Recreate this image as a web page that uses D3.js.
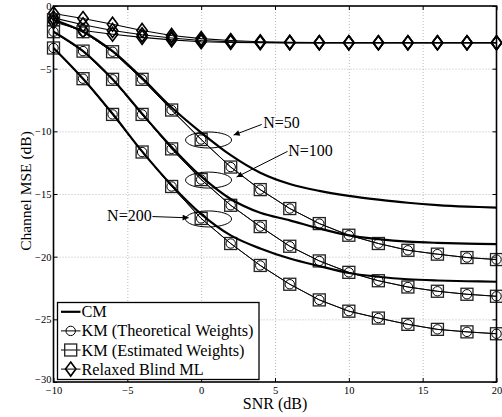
<!DOCTYPE html>
<html><head><meta charset="utf-8">
<script src="https://cdn.jsdelivr.net/npm/d3@7"></script>
<style>
body{margin:0;background:#fff;}
svg{display:block;font-family:"Liberation Serif","Times New Roman",serif;}
</style>
</head><body>
<svg id="c" width="502" height="417"></svg>
<script>
// ---- data ----
const snr = [-10,-8,-6,-4,-2,0,2,4,6,8,10,12,14,16,18,20];
const xTicks = [-10,-5,0,5,10,15,20];
const yTicks = [0,-5,-10,-15,-20,-25,-30];

const cm50  = [-1.1,-2.05,-3.6,-5.75,-8.1,-10.1,-11.9,-13.3,-14.2,-14.75,-15.15,-15.45,-15.7,-15.88,-16.0,-16.08];
const cm100 = [-2.05,-3.6,-5.85,-8.6,-11.25,-13.6,-15.4,-16.5,-17.1,-17.75,-18.3,-18.6,-18.8,-18.9,-18.96,-19.0];
const cm200 = [-3.35,-5.8,-8.6,-11.6,-14.3,-16.6,-18.3,-19.35,-20.15,-20.75,-21.3,-21.6,-21.8,-21.9,-21.96,-22.0];

const kmTheo50  = [-1.1,-2.05,-3.65,-5.85,-8.3,-10.65,-12.85,-14.65,-16.16,-17.36,-18.29,-18.95,-19.49,-19.8,-20.07,-20.23];
const kmTheo100 = [-2.05,-3.6,-5.85,-8.65,-11.4,-13.85,-15.9,-17.6,-19.17,-20.34,-21.25,-21.92,-22.42,-22.76,-23.0,-23.16];
const kmTheo200 = [-3.35,-5.8,-8.65,-11.65,-14.4,-16.95,-18.95,-20.7,-22.2,-23.45,-24.35,-24.9,-25.4,-25.8,-26.0,-26.15];

const kmEst50  = [-1.1,-2.05,-3.65,-5.85,-8.3,-10.65,-12.85,-14.65,-16.16,-17.36,-18.29,-18.95,-19.49,-19.8,-20.07,-20.23];
const kmEst100 = [-2.05,-3.6,-5.85,-8.65,-11.4,-13.85,-15.9,-17.6,-19.17,-20.34,-21.25,-21.92,-22.42,-22.76,-23.0,-23.16];
const kmEst200 = [-3.35,-5.8,-8.65,-11.65,-14.4,-16.95,-18.95,-20.7,-22.2,-23.45,-24.35,-24.9,-25.4,-25.8,-26.0,-26.15];

const rbml50  = [-0.6,-1.0,-1.45,-1.95,-2.35,-2.6,-2.75,-2.85,-2.9,-2.92,-2.93,-2.93,-2.93,-2.93,-2.93,-2.93];
const rbml100 = [-0.95,-1.5,-1.95,-2.3,-2.55,-2.75,-2.85,-2.9,-2.92,-2.93,-2.93,-2.93,-2.93,-2.93,-2.93,-2.93];
const rbml200 = [-1.25,-1.95,-2.25,-2.5,-2.7,-2.85,-2.9,-2.93,-2.94,-2.94,-2.94,-2.94,-2.94,-2.94,-2.94,-2.94];

const legendLabels = ["CM","KM (Theoretical Weights)","KM (Estimated Weights)","Relaxed Blind ML"];
const annLabels = ["N=50","N=100","N=200"];

// ---- layout ----
const svg = d3.select("#c");
const L = 53.5, R = 496.5, T = 6, B = 382;
const x = d3.scaleLinear().domain([-10,20]).range([L,R]);
const y = d3.scaleLinear().domain([0,-30]).range([T,B]);

// grid
const grid = svg.append("g");
grid.append("g").attr("transform",`translate(0,${B})`)
  .call(d3.axisBottom(x).tickValues(xTicks.slice(1,-1)).tickSize(-(B-T)).tickFormat(""))
  .call(g=>g.select(".domain").remove())
  .selectAll("line").attr("stroke","#aaa").attr("stroke-width",0.8).attr("stroke-dasharray","1,2");
grid.append("g").attr("transform",`translate(${L},0)`)
  .call(d3.axisLeft(y).tickValues(yTicks.slice(1,-1)).tickSize(-(R-L)).tickFormat(""))
  .call(g=>g.select(".domain").remove())
  .selectAll("line").attr("stroke","#aaa").attr("stroke-width",0.8).attr("stroke-dasharray","1,2");

// axes
const fmt = d => d3.format("d")(d).replace("-","\u2212");
const ax = svg.append("g").attr("font-family","Liberation Serif").attr("font-size",10.5);
ax.append("g").attr("transform",`translate(0,${B})`)
  .call(d3.axisBottom(x).tickValues(xTicks).tickSize(-4).tickPadding(4.5).tickFormat(fmt))
  .call(g=>g.select(".domain").remove())
  .call(g=>g.selectAll("text").attr("font-family","Liberation Serif").attr("font-size",10.5).attr("fill","#000"));
ax.append("g").attr("transform",`translate(0,${T})`)
  .call(d3.axisTop(x).tickValues(xTicks).tickSize(-4).tickFormat(""))
  .call(g=>g.select(".domain").remove());
ax.append("g").attr("transform",`translate(${L},0)`)
  .call(d3.axisLeft(y).tickValues(yTicks).tickSize(-4).tickPadding(2).tickFormat(fmt))
  .call(g=>g.select(".domain").remove())
  .call(g=>g.selectAll("text").attr("font-family","Liberation Serif").attr("font-size",10.5).attr("fill","#000"))
  .call(g=>g.selectAll(".tick").filter(d=>d===-30).select("text").attr("dy","0.05em"));
ax.append("g").attr("transform",`translate(${R},0)`)
  .call(d3.axisRight(y).tickValues(yTicks).tickSize(-4).tickFormat(""))
  .call(g=>g.select(".domain").remove());
ax.selectAll(".tick line").attr("stroke","#000").attr("stroke-width",1);

// series
const lineLin = d3.line().x((d,i)=>x(snr[i])).y(d=>y(d));
const lineSmooth = d3.line().x((d,i)=>x(snr[i])).y(d=>y(d)).curve(d3.curveCatmullRom);
const plot = svg.append("g");

function diamond(g, cx, cy){
  g.append("path").attr("d",`M${cx},${cy-7}L${cx+5.2},${cy}L${cx},${cy+7}L${cx-5.2},${cy}Z`)
    .attr("fill","none").attr("stroke","#000").attr("stroke-width",1.6);
}
function square(g, cx, cy){
  g.append("rect").attr("x",cx-6).attr("y",cy-6).attr("width",12).attr("height",12)
    .attr("fill","none").attr("stroke","#222").attr("stroke-width",1.3);
}
function circle(g, cx, cy){
  g.append("circle").attr("cx",cx).attr("cy",cy).attr("r",4.7)
    .attr("fill","none").attr("stroke","#000").attr("stroke-width",1);
}

[rbml50,rbml100,rbml200].forEach(s=>{
  plot.append("path").attr("d",lineLin(s)).attr("fill","none").attr("stroke","#000").attr("stroke-width",1.1);
});
[rbml50,rbml100,rbml200].forEach(s=>{
  s.forEach((v,i)=>diamond(plot, x(snr[i]), y(v)));
});
[kmEst50,kmEst100,kmEst200].forEach(s=>{
  plot.append("path").attr("d",lineLin(s)).attr("fill","none").attr("stroke","#000").attr("stroke-width",0.9);
  s.forEach((v,i)=>square(plot, x(snr[i]), y(v)));
});
[kmTheo50,kmTheo100,kmTheo200].forEach(s=>{
  plot.append("path").attr("d",lineLin(s)).attr("fill","none").attr("stroke","#000").attr("stroke-width",0.9);
  s.forEach((v,i)=>circle(plot, x(snr[i]), y(v)));
});
[cm50,cm100,cm200].forEach(s=>{
  plot.append("path").attr("d",lineSmooth(s)).attr("fill","none").attr("stroke","#000").attr("stroke-width",2.2);
});

// frame
svg.append("rect").attr("x",L).attr("y",T).attr("width",R-L).attr("height",B-T)
  .attr("fill","none").attr("stroke","#000").attr("stroke-width",1.6);

// annotations
svg.append("defs").append("marker").attr("id","ah").attr("viewBox","0 0 10 10")
  .attr("refX",10).attr("refY",5).attr("markerWidth",8).attr("markerHeight",6)
  .attr("markerUnits","userSpaceOnUse").attr("orient","auto")
  .append("path").attr("d","M0,0L10,5L0,10Z").attr("fill","#000");

const ellipseAt = [kmTheo50[5], kmTheo100[5], kmTheo200[5]];
ellipseAt.forEach(v=>{
  svg.append("ellipse").attr("cx",x(0.5)).attr("cy",y(v)+0.5).attr("rx",23).attr("ry",8)
    .attr("fill","none").attr("stroke","#000").attr("stroke-width",1);
});
// label positions in data units
const annText = [[4.2,-9.76],[5.9,-11.95],[-3.35,-17.15]];
const annFrom = [[4.1,-9.45],[5.85,-11.6],[-3.3,-16.8]];
const annTo   = [[2.2,-10.3],[2.4,-13.65],[-0.85,-16.9]];
annLabels.forEach((t,i)=>{
  svg.append("line").attr("x1",x(annFrom[i][0])).attr("y1",y(annFrom[i][1]))
    .attr("x2",x(annTo[i][0])).attr("y2",y(annTo[i][1]))
    .attr("stroke","#000").attr("stroke-width",1).attr("marker-end","url(#ah)");
  svg.append("text").attr("x",x(annText[i][0])).attr("y",y(annText[i][1]))
    .attr("text-anchor", i===2 ? "end" : "start")
    .attr("font-size",16).text(t);
});

// axis labels
svg.append("text").attr("x",(L+R)/2).attr("y",409).attr("text-anchor","middle")
  .attr("font-size",16).text("SNR (dB)");
svg.append("text").attr("transform",`translate(31,${(T+B)/2-3}) rotate(-90)`)
  .attr("text-anchor","middle").attr("font-size",15.5).text("Channel MSE (dB)");

// legend
const lg = svg.append("g");
lg.append("rect").attr("x",57.5).attr("y",302.5).attr("width",201.5).attr("height",77)
  .attr("fill","#fff").attr("stroke","#000").attr("stroke-width",1.3);
legendLabels.forEach((t,i)=>{
  const cy = 311.8 + i*19.1;
  lg.append("line").attr("x1",61).attr("x2",80.5).attr("y1",cy).attr("y2",cy)
    .attr("stroke","#000").attr("stroke-width", i===0 ? 2.2 : 1);
  if(i===1) circle(lg,70.7,cy);
  if(i===2) square(lg,70.7,cy);
  if(i===3) diamond(lg,70.7,cy);
  lg.append("text").attr("x",81.5).attr("y",cy+5.5).attr("font-size",16.3).text(t);
});
</script>
</body></html>
